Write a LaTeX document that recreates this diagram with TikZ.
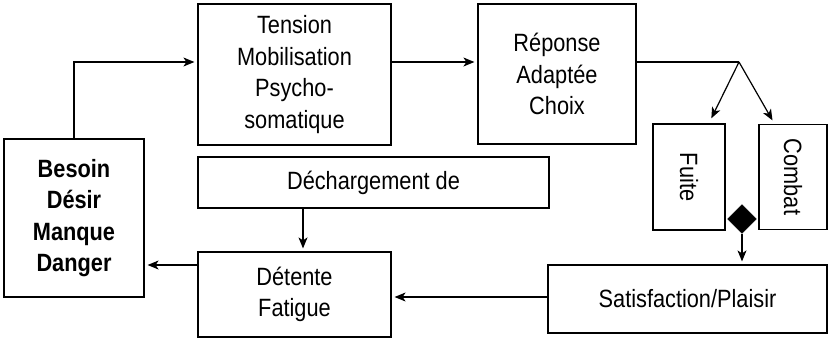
\documentclass[tikz,border=0pt]{standalone}
\usepackage{fontspec}
\setmainfont{Liberation Sans}[FakeStretch=0.87]
\usetikzlibrary{shapes.geometric,arrows.meta,calc}
\begin{document}
\begin{tikzpicture}[x=1pt,y=-1pt,
  txt/.style={font=\fontsize{25}{31.5}\selectfont},
  btxt/.style={font=\bfseries\fontsize{25}{31.5}\selectfont},
  box/.style={draw,line width=1.2pt,inner sep=0pt,align=center},
  arr/.style={line width=1.2pt,-{Stealth[length=11pt,width=9pt,inset=3pt]},shorten >=3pt},
  ln/.style={line width=1.2pt}]
\useasboundingbox (0,0) rectangle (829,341);
\node[box,btxt,minimum width=140,minimum height=158] (besoin) at (74,218) {Besoin\\Désir\\Manque\\Danger};
\node[box,txt,minimum width=193,minimum height=141] (tension) at (294.5,74.5) {Tension\\Mobilisation\\Psycho-\\somatique};
\node[box,txt,minimum width=158,minimum height=140] (reponse) at (557,74) {Réponse\\Adaptée\\Choix};
\node[box,txt,minimum width=351,minimum height=51] (dech) at (373.5,182.5) {Déchargement de};
\node[box,txt,minimum width=193,minimum height=85] (detente) at (294.5,294.5) {Détente\\Fatigue};
\node[box,txt,minimum width=279,minimum height=68] (sat) at (687.5,299) {Satisfaction/Plaisir};
\node[box,txt,rotate=-90,minimum width=106,minimum height=72] (fuite) at (689,177) {Fuite};
\node[box,txt,rotate=-90,minimum width=105,minimum height=68] (combat) at (793,177) {Combat};
\node[diamond,fill=black,draw=black,inner sep=0pt,minimum size=29] (dia) at (742,219) {};
\coordinate (ytop) at (0,62);
\coordinate (split) at (739,62);
\coordinate (fuiteend) at (710,121);
\coordinate (combatend) at (774,123);
\coordinate (xdech) at (303,0);
\coordinate (yret) at (0,265);
\coordinate (ysat) at (0,297);
\draw[arr] (besoin.north) |- (tension.west |- ytop);
\draw[arr] (tension.east |- ytop) -- (reponse.west |- ytop);
\draw[ln] (reponse.east |- ytop) -- (split);
\draw[arr] (split) -- (fuiteend);
\draw[arr] (split) -- (combatend);
\draw[arr] (dia.south) -- (sat.north -| dia.south);
\draw[arr] (dech.south -| xdech) -- (detente.north -| xdech);
\draw[arr] (detente.west |- yret) -- (besoin.east |- yret);
\draw[arr] (sat.west |- ysat) -- (detente.east |- ysat);
\end{tikzpicture}
\end{document}
